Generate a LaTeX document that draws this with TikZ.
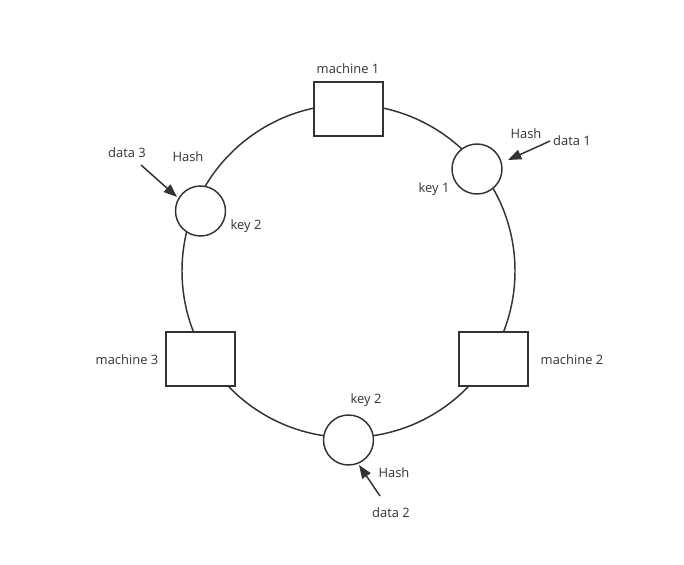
\documentclass[tikz,border=0pt]{standalone}
\usepackage{fontspec}
\setmainfont{Open Sans}
\usetikzlibrary{arrows.meta}
\definecolor{ink}{HTML}{333333}
\begin{document}
\begin{tikzpicture}[x=0.75pt,y=-0.75pt,
  line width=1.1pt, draw=ink,
  machine/.style={draw=ink, fill=white, minimum width=69*0.75pt, minimum height=54*0.75pt, inner sep=0pt, line width=1.1pt},
  keynode/.style={draw=ink, fill=white, circle, minimum size=50*0.75pt, inner sep=0pt, line width=1.1pt},
  lbl/.style={text=ink, font=\fontsize{9.7}{11}\selectfont, inner sep=0pt},
  harrow/.style={draw=ink, line width=1.1pt, -{Triangle[length=10pt,width=7.5pt]}}]
\useasboundingbox (0,0) rectangle (684,564);
\node[draw=ink, circle, minimum size=333*0.75pt, inner sep=0pt, line width=1.1pt] (ring) at (348.5,271) {};
\node[machine] (m1) at (348.5,109) {};
\node[machine] (m2) at (493.5,359) {};
\node[machine] (m3) at (200.5,359) {};
\node[keynode] (k1) at (477,169) {};
\node[keynode] (k2a) at (200.5,211) {};
\node[keynode] (k2b) at (348.5,440) {};
\node[lbl] (lm1) at (348,69) {machine 1};
\node[lbl] (lm2) at (572,360) {machine 2};
\node[lbl] (lm3) at (127,360) {machine 3};
\node[lbl] (lk1) at (434,189) {key 1};
\node[lbl] (lk2a) at (246,226) {key 2};
\node[lbl] (lk2b) at (366,400) {key 2};
\node[lbl] (h1) at (526,134) {Hash};
\node[lbl] (h3) at (188,157) {Hash};
\node[lbl] (h2) at (394,473) {Hash};
\node[lbl] (d1) at (572,141) {data 1};
\node[lbl] (d3) at (127,153) {data 3};
\node[lbl] (d2) at (391,513) {data 2};
\coordinate (s1) at (550,141);
\coordinate (s3) at (141,165);
\coordinate (s2) at (380,496);
\draw[harrow] (s1) -- (508,160);
\draw[harrow] (s3) -- (177,197);
\draw[harrow] (s2) -- (359,465);
\end{tikzpicture}
\end{document}
